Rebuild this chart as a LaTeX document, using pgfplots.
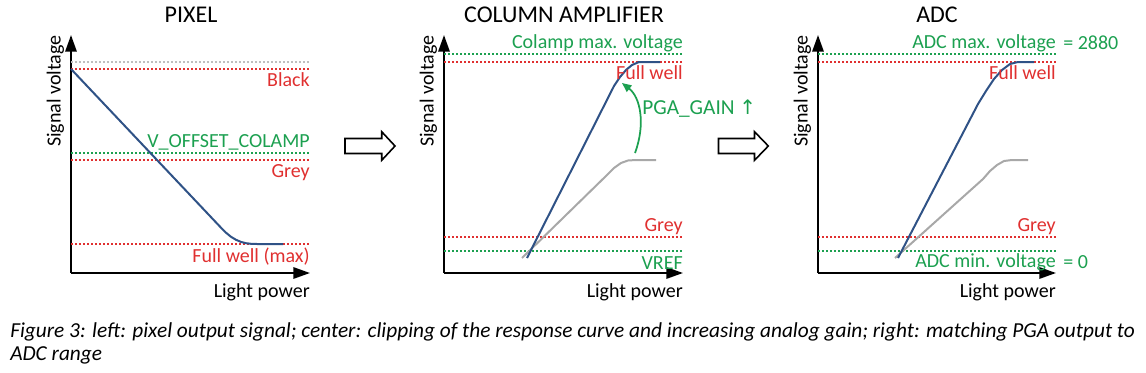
\documentclass[border=0pt]{standalone}
\usepackage{pgfplots}
\pgfplotsset{compat=1.18}
\usepackage{fontspec}
\setmainfont{Carlito}
\newfontfamily\dejavu{DejaVu Sans}
\usetikzlibrary{arrows.meta}
\definecolor{rd}{RGB}{224,48,48}
\definecolor{gn}{RGB}{28,160,80}
\definecolor{bl}{RGB}{47,82,134}
\definecolor{gr}{RGB}{168,168,168}
\definecolor{lg}{RGB}{190,190,190}
\pgfplotsset{
 panel/.style={scale only axis, axis lines=left, xmin=0, ymin=0, ymax=238,
   xtick=\empty, ytick=\empty, clip=false, height=178.5pt, anchor=south west,
   axis line style={line width=1.5pt,-{Triangle[length=12.5pt,width=8.5pt]}}},
 hl/.style={line width=1.1pt, dash pattern=on 1.6pt off 1.4pt, forget plot},
 cv/.style={line width=1.5pt, forget plot},
}
\tikzset{lab/.style={font=\fontsize{15}{17}\selectfont, inner sep=0pt},
 ttl/.style={font=\fontsize{18}{20}\selectfont, inner sep=0pt}}
\begin{document}
\begin{tikzpicture}
\begin{scope}[x=0.75pt,y=-0.75pt]
\useasboundingbox (0,0) rectangle (1146,372);
% titles
\node[ttl] at (191,15) {PIXEL};
\node[ttl] at (564,15) {COLUMN AMPLIFIER};
\node[ttl] at (937,15) {ADC};
% block arrows
\draw[line width=1.2pt, line join=miter, fill=white] (345,138.5) -- (381.7,138.5) -- (381.7,131.7) -- (395,146) -- (381.7,160.3) -- (381.7,153.5) -- (345,153.5) -- cycle;
\draw[line width=1.2pt, line join=miter, fill=white] (718.5,138.5) -- (754.5,138.5) -- (754.5,131.7) -- (768.3,146) -- (754.5,160.3) -- (754.5,153.5) -- (718.5,153.5) -- cycle;
% caption
\node[anchor=base west, inner sep=0pt, font=\itshape\fontsize{16}{18}\selectfont] at (10,337) {Figure 3: left: pixel output signal; center: clipping of the response curve and increasing analog gain; right: matching PGA output to};
\node[anchor=base west, inner sep=0pt, font=\itshape\fontsize{16}{18}\selectfont] at (10,360) {ADC range};
\end{scope}

% ---------- PIXEL ----------
\begin{axis}[panel, at={(53.25pt,-204.75pt)}, width=179.25pt, xmax=239]
\addplot[hl, lg] coordinates {(0,211) (239,211)};
\addplot[hl, rd] coordinates {(0,204) (239,204)};
\addplot[hl, gn] coordinates {(0,120) (239,120)};
\addplot[hl, rd] coordinates {(0,113) (239,113)};
\addplot[hl, rd] coordinates {(0,29) (239,29)};
\addplot[cv, bl] coordinates {(0,204) (150,45.3) (155,40.3) (160,36.2) (165,33.2) (170,31.1) (175,29.8) (180,29.2) (186,29) (212,29)};
\node[lab, rd, anchor=east] at (axis cs:239,193) {Black};
\node[lab, gn, anchor=east] at (axis cs:239,131) {V\_OFFSET\_COLAMP};
\node[lab, rd, anchor=east] at (axis cs:239,100) {Grey};
\node[lab, rd, anchor=east] at (axis cs:239,16) {Full well (max)};
\node[lab, anchor=east] at (axis cs:239,-19) {Light power};
\node[lab, rotate=90, anchor=east] at (axis cs:-15.5,238) {Signal voltage};
\end{axis}

% ---------- COLUMN AMPLIFIER ----------
\begin{axis}[panel, at={(333pt,-204.75pt)}, width=179.25pt, xmax=239]
\addplot[hl, gn] coordinates {(0,219) (239,219)};
\addplot[hl, rd] coordinates {(0,211) (239,211)};
\addplot[hl, rd] coordinates {(0,36) (239,36)};
\addplot[hl, gn] coordinates {(0,22) (239,22)};
\addplot[cv, gr] coordinates {(78,15) (163,98) (170,105) (177,110) (184,112.5) (192,113) (212,113)};
\addplot[cv, bl] coordinates {(83,15) (170,187) (176,196) (182,203) (188,208) (195,211) (216,211)};
\draw[gn, line width=1.3pt, -{Triangle[length=7pt,width=6pt]}] (axis cs:191,120) .. controls (axis cs:202,150) and (axis cs:196,176) .. (axis cs:178,190);
\node[lab, gn, anchor=west, font=\fontsize{16}{18}\selectfont] at (axis cs:198,164) {PGA\_GAIN {\dejavu\fontsize{15}{17}\selectfont ↑}};
\node[lab, gn, anchor=east] at (axis cs:239,230) {Colamp max. voltage};
\node[lab, rd, anchor=east] at (axis cs:239,200) {Full well};
\node[lab, rd, anchor=east] at (axis cs:239,46) {Grey};
\node[lab, gn, anchor=east] at (axis cs:239,10) {VREF};
\node[lab, anchor=east] at (axis cs:239,-19) {Light power};
\node[lab, rotate=90, anchor=east] at (axis cs:-15.5,238) {Signal voltage};
\end{axis}

% ---------- ADC ----------
\begin{axis}[panel, at={(613.5pt,-204.75pt)}, width=178.5pt, xmax=238]
\addplot[hl, gn] coordinates {(0,219) (238,219)};
\addplot[hl, rd] coordinates {(0,211) (238,211)};
\addplot[hl, rd] coordinates {(0,36) (238,36)};
\addplot[hl, gn] coordinates {(0,22) (238,22)};
\addplot[cv, gr] coordinates {(77,15) (165,94) (172,102) (179,108) (186,112) (194,113) (210,113)};
\addplot[cv, bl] coordinates {(80,15) (160,169) (168,182) (176,194) (184,203) (192,209) (200,211) (216,211)};
\node[lab, gn, anchor=east] at (axis cs:238,230) {ADC max. voltage};
\node[lab, gn, anchor=west] at (axis cs:245,230) {= 2880};
\node[lab, rd, anchor=east] at (axis cs:238,200) {Full well};
\node[lab, rd, anchor=east] at (axis cs:238,46) {Grey};
\node[lab, gn, anchor=east] at (axis cs:238,11) {ADC min. voltage};
\node[lab, gn, anchor=west] at (axis cs:245,11) {= 0};
\node[lab, anchor=east] at (axis cs:238,-19) {Light power};
\node[lab, rotate=90, anchor=east] at (axis cs:-15.5,238) {Signal voltage};
\end{axis}
\end{tikzpicture}
\end{document}
